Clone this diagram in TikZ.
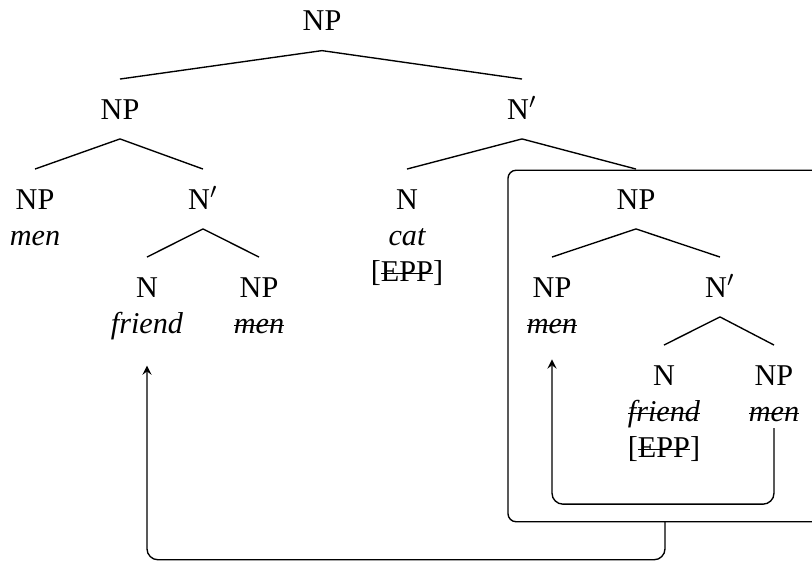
\documentclass[tikz,border=0pt]{standalone}
\usepackage{fontspec}
\setmainfont{Liberation Serif}
\newcommand\struck[1]{\setbox0=\hbox{#1}\rlap{\vrule width\wd0 height 3.05pt depth -2.55pt}\box0}
\begin{document}
\begin{tikzpicture}[x=0.128cm, y=-0.128cm, >=stealth,
	font=\fontsize{11pt}{13pt}\selectfont,
	cat/.style={anchor=base, inner sep=0pt, outer ysep=2.55mm, text height=7.3pt, text depth=0pt},
	word/.style={anchor=base, inner sep=0pt, outer sep=2.5pt, font=\fontsize{11pt}{13pt}\selectfont\itshape},
	treeline/.style={line width=0.5pt},
	movement/.style={->, line width=0.5pt, rounded corners=4pt, shorten >=7pt}]
			\useasboundingbox (0,0) rectangle (81.2,56.4);
			\node[draw, line width=0.5pt, rounded corners=3pt, inner sep=0pt, outer sep=0pt,
				minimum width=4.02cm, minimum height=4.5cm] (box) at (66.5,34.6) {};
			\node[cat] (root) at (32.2,3.07) {NP};
			\node[cat] (npA) at (12.0,11.9) {NP};
			\node[cat] (nbarA) at (52.2,11.9) {N$'$};
			\node[cat] (npB) at (3.5,20.9) {NP};
			\node[cat] (nbarB) at (20.3,20.9) {N$'$};
			\node[cat] (nA) at (40.7,20.9) {N};
			\node[cat] (npC) at (63.6,20.9) {NP};
			\node[cat] (nB) at (14.7,29.7) {N};
			\node[cat] (npD) at (25.9,29.7) {NP};
			\node[cat] (npE) at (55.2,29.7) {NP};
			\node[cat] (nbarC) at (72.0,29.7) {N$'$};
			\node[cat] (nC) at (66.4,38.5) {N};
			\node[cat] (npF) at (77.4,38.5) {NP};
			\node[word] (menA) at (3.5,24.5) {men};
			\node[word] (catA) at (40.7,24.5) {cat};
			\node[word, font=\fontsize{11pt}{13pt}\selectfont] (eppA) at (40.7,28.1) {[\struck{EPP}]};
			\node[word] (friendA) at (14.7,33.3) {friend};
			\node[word] (menB) at (25.9,33.3) {\struck{men}};
			\node[word] (menC) at (55.2,33.3) {\struck{men}};
			\node[word] (friendB) at (66.4,42.1) {\struck{friend}};
			\node[word, font=\fontsize{11pt}{13pt}\selectfont] (eppB) at (66.4,45.7) {[\struck{EPP}]};
			\node[word] (menD) at (77.4,42.1) {\struck{men}};
			\foreach \p/\c in {root/npA, root/nbarA, npA/npB, npA/nbarB, nbarA/nA, nbarA/npC,
				nbarB/nB, nbarB/npD, npC/npE, npC/nbarC, nbarC/nC, nbarC/npF}{
				\draw[treeline] (\p.south) -- (\c.north);
			}
			\draw[movement] (menD.south) -- ++(0,7.6) -| (menC.south);
			\draw[movement] (box.south) -- ++(0,3.8) -| (friendA.south);
\end{tikzpicture}
\end{document}
